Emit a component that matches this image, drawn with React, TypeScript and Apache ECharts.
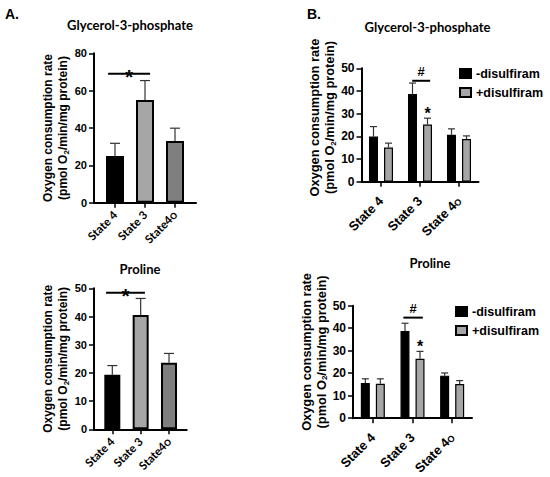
import React, { useEffect, useRef } from "react";
import * as echarts from "echarts";

// ---------- data ----------
const STATES_A = ["State 4", "State 3", "State4{o|O}"];
const STATES_B = ["State 4", "State 3", "State 4{o|O}"];

const GLY_A_MEAN = [25.0, 55.0, 33.0];
const GLY_A_SEM = [6.8, 10.4, 6.9];
const PRO_A_MEAN = [19.3, 40.5, 23.6];
const PRO_A_SEM = [3.3, 5.9, 3.3];

const SERIES_B = ["-disulfiram", "+disulfiram"];
const GLY_B_MINUS = [19.9, 38.7, 20.7];
const GLY_B_MINUS_SEM = [4.4, 4.8, 2.6];
const GLY_B_PLUS = [15.1, 25.2, 18.8];
const GLY_B_PLUS_SEM = [1.9, 2.8, 1.4];
const PRO_B_MINUS = [15.6, 38.8, 18.9];
const PRO_B_MINUS_SEM = [1.9, 3.4, 1.2];
const PRO_B_PLUS = [15.3, 26.4, 15.2];
const PRO_B_PLUS_SEM = [2.2, 3.3, 1.5];

const Y_GLY_A = { max: 80, step: 20 };
const Y_PRO_A = { max: 50, step: 10 };
const Y_B = { max: 50, step: 10 };

// significance bars: y value, extent in category units
const SIG_GLY_A = { y: 69, left: -0.23, right: 1.17, mark: "*" };
const SIG_PRO_A = { y: 48.4, left: -0.22, right: 1.15, mark: "*" };
const SIG_GLY_B = { y: 44.5, left: 0.8, right: 1.26, mark: "#" };
const SIG_PRO_B = { y: 44.7, left: 0.77, right: 1.26, mark: "#" };
const STAR_B_CATEGORY = 1;

const TITLES = ["Glycerol-3-phosphate", "Proline", "Glycerol-3-phosphate", "Proline"];
const PANELS = ["A.", "B."];

// ---------- styles ----------
const ARIAL = '"Liberation Sans", Arial, sans-serif';
const CAL = 'Lato, "Liberation Sans", sans-serif';
const A_COLORS = ["#000000", "#a6a6a6", "#7f7f7f"];
const B_COLORS = ["#000000", "#a6a6a6"];
const ERR = "#333333";

const B_BAR_W = 9;
const B_OFFSET = 7.5;

const YNAME = "Oxygen consumption rate\n(pmol O{sub|2}/min/mg protein)";

function nameStyle(size: number, pad: number[]) {
  return {
    fontFamily: ARIAL,
    fontWeight: "bold",
    fontSize: size,
    color: "#000",
    lineHeight: 15,
    padding: pad,
    rich: {
      sub: { fontFamily: ARIAL, fontWeight: "bold", fontSize: 8, verticalAlign: "bottom", lineHeight: 5, color: "#000" },
    },
  };
}

const axisLine = { show: true, onZero: false, lineStyle: { color: "#000", width: 2 } };
const axisTick = { show: true, length: 5, lineStyle: { color: "#000", width: 1.5 } };

function yAxis(grid: number, max: number, step: number, fs: number, gap: number, pad: number[], nameSize: number) {
  return {
    gridIndex: grid,
    type: "value",
    min: 0,
    max,
    interval: step,
    axisLine,
    axisTick,
    splitLine: { show: false },
    axisLabel: { margin: 7, fontFamily: ARIAL, fontWeight: "bold", fontSize: fs, color: "#000" },
    name: YNAME,
    nameLocation: "middle",
    nameRotate: 90,
    nameGap: gap,
    nameTextStyle: nameStyle(nameSize, pad),
  };
}

const labelRich = { o: { fontSize: 9, verticalAlign: "bottom", lineHeight: 4, color: "#000", fontFamily: ARIAL } };

function xAxisA(grid: number, min: number, max: number) {
  return {
    gridIndex: grid,
    type: "value",
    min,
    max,
    splitLine: { show: false },
    axisLine,
    axisTick: { ...axisTick, customValues: [0, 1, 2] },
    axisLabel: {
      customValues: [0, 1, 2],
      formatter: (v: number) => STATES_A[Math.round(v)],
      rotate: 45,
      margin: 10,
      fontFamily: CAL,
      fontWeight: "bold",
      fontSize: 11.5,
      color: "#000",
      rich: labelRich,
    },
  };
}

function xAxisB(grid: number) {
  return {
    gridIndex: grid,
    type: "category",
    data: STATES_B,
    axisLine,
    axisTick: { ...axisTick, alignWithLabel: true },
    axisLabel: {
      rotate: 45,
      margin: 17,
      fontFamily: ARIAL,
      fontWeight: "bold",
      fontSize: 13,
      color: "#000",
      interval: 0,
      rich: { o: { ...labelRich.o, fontSize: 9 } },
    },
  };
}

function errRender(offset: number, cap: number) {
  return (params: any, api: any) => {
    const x = api.value(0);
    const m = api.value(1);
    const s = api.value(2);
    const p0 = api.coord([x, m]);
    const p1 = api.coord([x, m + s]);
    const cx = p0[0] + offset;
    const st = { stroke: ERR, lineWidth: 1.2 };
    return {
      type: "group",
      children: [
        { type: "line", shape: { x1: cx, y1: p0[1], x2: cx, y2: p1[1] }, style: st },
        { type: "line", shape: { x1: cx - cap / 2, y1: p1[1], x2: cx + cap / 2, y2: p1[1] }, style: st },
      ],
    };
  };
}

function sigRender(markSize: number, markDy: number) {
  return (params: any, api: any) => {
    const y = api.value(1);
    const l = api.value(2);
    const r = api.value(3);
    const base = api.coord([0, y]);
    const unit = api.size([1, 0])[0];
    const x0 = base[0] + l * unit;
    const x1 = base[0] + r * unit;
    return {
      type: "group",
      children: [
        { type: "line", shape: { x1: x0, y1: base[1], x2: x1, y2: base[1] }, style: { stroke: "#000", lineWidth: 2 } },
        {
          type: "text",
          x: (x0 + x1) / 2,
          y: base[1] + markDy,
          style: {
            text: String(api.value(4) === 1 ? "#" : "*"),
            fontFamily: ARIAL,
            fontWeight: "bold",
            fontSize: markSize,
            fill: "#000",
            align: "center",
            verticalAlign: "middle",
            textAlign: "center",
            textVerticalAlign: "middle",
          },
        },
      ],
    };
  };
}

function starRender() {
  return (params: any, api: any) => {
    const p = api.coord([api.value(0), api.value(1)]);
    return {
      type: "text",
      x: p[0] + B_OFFSET,
      y: p[1] - 5,
      style: {
        text: "*",
        fontFamily: ARIAL,
        fontWeight: "bold",
        fontSize: 16,
        fill: "#000",
        align: "center",
        verticalAlign: "middle",
        textAlign: "center",
        textVerticalAlign: "middle",
      },
    };
  };
}

function sigData(s: { y: number; left: number; right: number; mark: string }) {
  return [[0, s.y, s.left, s.right, s.mark === "#" ? 1 : 0]];
}

function barsA(axis: number, mean: number[], sem: number[], bw: number, cap: number) {
  return [
    {
      type: "bar",
      xAxisIndex: axis,
      yAxisIndex: axis,
      barWidth: bw,
      itemStyle: { borderColor: "#000", borderWidth: 2 },
      data: mean.map((v, i) => ({ value: [i, v], itemStyle: { color: A_COLORS[i] } })),
      z: 2,
    },
    {
      type: "custom",
      xAxisIndex: axis,
      yAxisIndex: axis,
      encode: { x: 0, y: 1 },
      data: mean.map((v, i) => [i, v, sem[i]]),
      renderItem: errRender(0, cap),
      z: 3,
    },
  ];
}

function barsB(axis: number, vals: number[][], sems: number[][]) {
  const out: any[] = [];
  vals.forEach((arr, si) => {
    out.push({
      type: "bar",
      name: SERIES_B[si],
      xAxisIndex: axis,
      yAxisIndex: axis,
      barWidth: B_BAR_W,
      barGap: "67%",
      itemStyle: { color: B_COLORS[si], borderColor: "#000", borderWidth: 1.2 },
      data: arr,
      z: 2,
    });
  });
  vals.forEach((arr, si) => {
    out.push({
      type: "custom",
      xAxisIndex: axis,
      yAxisIndex: axis,
      encode: { x: 0, y: 1 },
      data: arr.map((v, i) => [i, v, sems[si][i]]),
      renderItem: errRender(si === 0 ? -B_OFFSET : B_OFFSET, 7),
      z: 3,
    });
  });
  return out;
}

function legend(left: number, top: number) {
  return {
    data: SERIES_B,
    orient: "vertical",
    left,
    top,
    padding: 0,
    itemWidth: 11,
    itemHeight: 9,
    itemGap: 4,
    icon: "rect",
    textStyle: { fontFamily: ARIAL, fontWeight: "bold", fontSize: 12.5, color: "#000", lineHeight: 15 },
  };
}

function titleText(text: string, x: number, y: number) {
  return {
    type: "text",
    x,
    y,
    style: {
      text,
      fontFamily: CAL,
      fontWeight: "bold",
      fontSize: 13,
      fill: "#000",
      align: "center",
      verticalAlign: "middle",
      textAlign: "center",
      textVerticalAlign: "middle",
    },
  };
}

export default function App() {
  const ref = useRef<HTMLDivElement>(null);
  useEffect(() => {
    if (!ref.current) return;
    const chart = echarts.init(ref.current, undefined, { renderer: "svg" });
    const option: any = {
      animation: false,
      backgroundColor: "#fff",
      grid: [
        { left: 94, top: 53.3, width: 102, height: 149.4 },
        { left: 94, top: 288.3, width: 92.7, height: 141 },
        { left: 361.5, top: 68.3, width: 117, height: 113.4 },
        { left: 353, top: 305.7, width: 119, height: 113.3 },
      ],
      xAxis: [xAxisA(0, -0.7, 2.7), xAxisA(1, -0.646, 2.624), xAxisB(2), xAxisB(3)],
      yAxis: [
        yAxis(0, Y_GLY_A.max, Y_GLY_A.step, 11, 24, [0, 0, 0, 0], 12),
        yAxis(1, Y_PRO_A.max, Y_PRO_A.step, 11, 23, [0, 0, 0, 0], 12),
        yAxis(2, Y_B.max, Y_B.step, 12, 23, [0, 0, 0, 15], 12.8),
        yAxis(3, Y_B.max, Y_B.step, 12, 18, [0, 0, 0, 20], 12.8),
      ],
      legend: [legend(459, 66), legend(455, 304)],
      series: [
        ...barsA(0, GLY_A_MEAN, GLY_A_SEM, 18, 10),
        ...barsA(1, PRO_A_MEAN, PRO_A_SEM, 16, 10),
        ...barsB(2, [GLY_B_MINUS, GLY_B_PLUS], [GLY_B_MINUS_SEM, GLY_B_PLUS_SEM]),
        ...barsB(3, [PRO_B_MINUS, PRO_B_PLUS], [PRO_B_MINUS_SEM, PRO_B_PLUS_SEM]),
        { type: "custom", xAxisIndex: 0, yAxisIndex: 0, encode: { x: 0, y: 1 }, data: sigData(SIG_GLY_A), renderItem: sigRender(21, 3), z: 4 },
        { type: "custom", xAxisIndex: 1, yAxisIndex: 1, encode: { x: 0, y: 1 }, data: sigData(SIG_PRO_A), renderItem: sigRender(21, 3), z: 4 },
        { type: "custom", xAxisIndex: 2, yAxisIndex: 2, encode: { x: 0, y: 1 }, data: sigData(SIG_GLY_B), renderItem: sigRender(13, -9), z: 4 },
        { type: "custom", xAxisIndex: 3, yAxisIndex: 3, encode: { x: 0, y: 1 }, data: sigData(SIG_PRO_B), renderItem: sigRender(13, -9), z: 4 },
        {
          type: "custom", xAxisIndex: 2, yAxisIndex: 2, encode: { x: 0, y: 1 },
          data: [[STAR_B_CATEGORY, GLY_B_PLUS[STAR_B_CATEGORY] + GLY_B_PLUS_SEM[STAR_B_CATEGORY]]],
          renderItem: starRender(), z: 4,
        },
        {
          type: "custom", xAxisIndex: 3, yAxisIndex: 3, encode: { x: 0, y: 1 },
          data: [[STAR_B_CATEGORY, PRO_B_PLUS[STAR_B_CATEGORY] + PRO_B_PLUS_SEM[STAR_B_CATEGORY]]],
          renderItem: starRender(), z: 4,
        },
      ],
      graphic: [
        { type: "text", x: 5, y: 13.5, style: { text: PANELS[0], fontFamily: ARIAL, fontWeight: "bold", fontSize: 14, fill: "#000", verticalAlign: "middle", textVerticalAlign: "middle" } },
        { type: "text", x: 307, y: 13.5, style: { text: PANELS[1], fontFamily: ARIAL, fontWeight: "bold", fontSize: 14, fill: "#000", verticalAlign: "middle", textVerticalAlign: "middle" } },
        titleText(TITLES[0], 130, 25),
        titleText(TITLES[1], 140, 269),
        titleText(TITLES[2], 427.5, 26.7),
        titleText(TITLES[3], 430, 263),
      ],
    };
    chart.setOption(option);
    return () => chart.dispose();
  }, []);
  return (
    <div
      ref={ref}
      style={{ position: "fixed", left: 0, top: 0, width: 550, height: 477, background: "#fff" }}
    />
  );
}
